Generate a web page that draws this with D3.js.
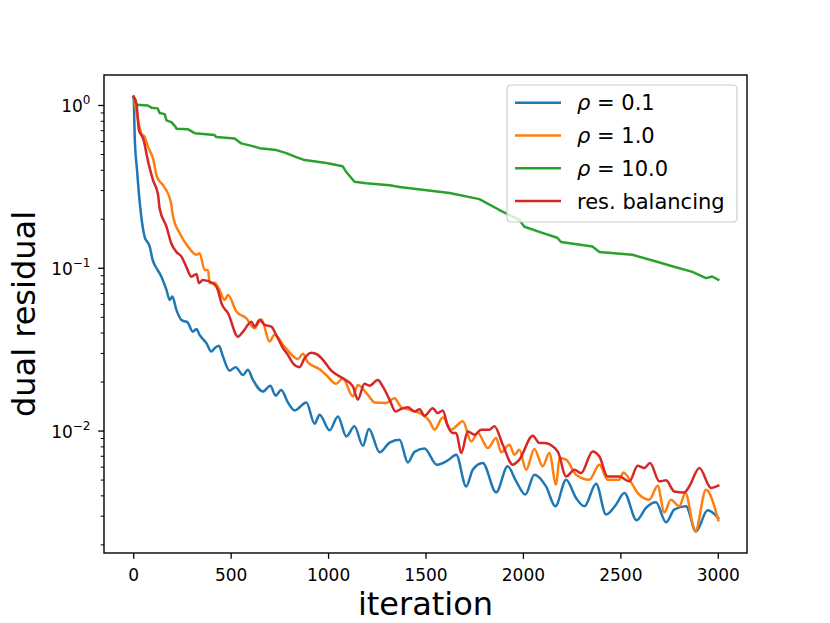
<!DOCTYPE html>
<html>
<head>
<meta charset="utf-8">
<script src="https://cdn.jsdelivr.net/npm/d3@7"></script>
<style>
  body { margin: 0; background: #fff; }
  svg { font-family: "DejaVu Sans", sans-serif; }
</style>
</head>
<body>
<svg width="830" height="623"></svg>
<script>
// values: [iteration, dual residual]
const rho01 = [[0,1.13],[5,0.642],[17,0.401],[31,0.252],[56,0.156],[82,0.136],[97,0.1125],[123,0.0975],[142,0.0888],[168,0.0736],[185,0.0638],[198,0.067],[219,0.0555],[245,0.0481],[277,0.0464],[303,0.0408],[322,0.0423],[338,0.039],[373,0.0347],[398,0.0308],[415,0.0323],[437,0.0334],[458,0.0287],[492,0.0235],[523,0.0247],[561,0.0221],[586,0.0238],[612,0.0206],[663,0.0175],[701,0.019],[728,0.0165],[757,0.0179],[791,0.015],[826,0.0134],[886,0.015],[928,0.0111],[954,0.0126],[1005,0.0101],[1048,0.0123],[1091,0.00927],[1133,0.0107],[1176,0.00813],[1207,0.0103],[1262,0.0074],[1313,0.0085],[1364,0.00885],[1407,0.00641],[1441,0.00745],[1492,0.00781],[1556,0.00621],[1615,0.00664],[1655,0.00716],[1706,0.00457],[1740,0.00579],[1791,0.00637],[1860,0.0042],[1919,0.00607],[1963,0.00491],[2010,0.00407],[2056,0.0054],[2116,0.00457],[2164,0.00345],[2219,0.00503],[2270,0.00388],[2313,0.00345],[2373,0.00475],[2424,0.00307],[2475,0.00353],[2518,0.00417],[2581,0.00283],[2629,0.00337],[2680,0.00365],[2732,0.00275],[2774,0.00329],[2834,0.00345],[2886,0.00242],[2945,0.00326],[3000,0.00292]];

const rho1 = [[0,1.13],[22,0.813],[39,0.673],[56,0.642],[73,0.557],[99,0.473],[119,0.365],[150,0.324],[190,0.256],[202,0.207],[236,0.164],[278,0.136],[322,0.121],[338,0.1236],[364,0.0977],[381,0.0977],[390,0.0809],[415,0.0816],[432,0.0771],[467,0.064],[484,0.0686],[527,0.0542],[578,0.0493],[620,0.0428],[655,0.0486],[697,0.0355],[723,0.039],[774,0.033],[843,0.0277],[868,0.0298],[894,0.0264],[954,0.024],[988,0.0221],[1039,0.0195],[1073,0.0211],[1125,0.0163],[1150,0.0192],[1202,0.0167],[1236,0.015],[1296,0.0149],[1338,0.0159],[1373,0.014],[1415,0.0135],[1484,0.0126],[1518,0.0115],[1544,0.0102],[1586,0.0121],[1629,0.0102],[1689,0.0115],[1732,0.00863],[1766,0.00972],[1817,0.00787],[1860,0.00906],[1886,0.0074],[1928,0.00824],[1954,0.00716],[1979,0.00768],[2014,0.00579],[2056,0.00776],[2099,0.00607],[2133,0.00733],[2168,0.00469],[2185,0.00683],[2219,0.00667],[2270,0.0054],[2338,0.00503],[2390,0.00621],[2432,0.00503],[2492,0.00503],[2513,0.00557],[2560,0.00469],[2586,0.00417],[2646,0.00379],[2689,0.00462],[2723,0.00317],[2757,0.00379],[2800,0.00345],[2831,0.00417],[2882,0.00242],[2937,0.00436],[3000,0.00283]];

const rho10 = [[0,1.13],[14,1.01],[72,1.0],[91,0.97],[123,0.96],[133,0.90],[159,0.885],[168,0.81],[193,0.79],[215,0.74],[219,0.72],[277,0.715],[313,0.676],[415,0.658],[424,0.64],[518,0.627],[552,0.585],[610,0.563],[646,0.547],[732,0.532],[783,0.51],[834,0.482],[877,0.462],[988,0.443],[1072,0.424],[1091,0.39],[1133,0.34],[1193,0.333],[1313,0.324],[1364,0.316],[1621,0.29],[1774,0.266],[1877,0.228],[1979,0.198],[2005,0.18],[2097,0.165],[2174,0.154],[2193,0.145],[2354,0.136],[2390,0.126],[2559,0.121],[2681,0.11],[2764,0.103],[2867,0.095],[2937,0.087],[2969,0.089],[3000,0.085]];

const resBal = [[0,1.13],[14,1.03],[27,0.705],[48,0.628],[78,0.43],[99,0.348],[125,0.282],[133,0.233],[168,0.18],[193,0.142],[219,0.126],[245,0.118],[270,0.102],[296,0.0888],[322,0.0923],[335,0.0809],[355,0.0848],[407,0.0809],[432,0.0736],[450,0.061],[484,0.053],[535,0.038],[561,0.0408],[604,0.047],[620,0.0438],[646,0.0482],[672,0.0449],[706,0.0438],[731,0.039],[766,0.0323],[791,0.0294],[817,0.0261],[851,0.0247],[877,0.028],[911,0.0303],[945,0.0294],[971,0.0274],[1014,0.0235],[1073,0.0211],[1125,0.0188],[1150,0.0156],[1184,0.0195],[1210,0.019],[1253,0.0206],[1278,0.0188],[1313,0.0156],[1344,0.0132],[1373,0.0137],[1407,0.014],[1441,0.0132],[1467,0.0136],[1492,0.0124],[1535,0.0138],[1560,0.0129],[1586,0.0134],[1612,0.0107],[1637,0.00972],[1655,0.00972],[1681,0.00733],[1714,0.00995],[1749,0.00949],[1783,0.0102],[1826,0.0102],[1851,0.0107],[1894,0.00824],[1945,0.00621],[1979,0.00667],[2048,0.00936],[2082,0.00844],[2108,0.00844],[2176,0.0075],[2219,0.00526],[2262,0.00579],[2296,0.00552],[2355,0.0075],[2390,0.00698],[2432,0.00526],[2492,0.00526],[2544,0.00491],[2586,0.00612],[2620,0.00593],[2650,0.00637],[2697,0.00491],[2732,0.00498],[2774,0.00426],[2826,0.0042],[2851,0.00457],[2903,0.00593],[2963,0.00447],[3000,0.00462]];

const seriesNames = ["ρ = 0.1", "ρ = 1.0", "ρ = 10.0", "res. balancing"];
const xTicks = [0, 500, 1000, 1500, 2000, 2500, 3000];
const yExponents = [0, -1, -2];

const colors = ["#1f77b4", "#ff7f0e", "#2ca02c", "#d62728"];
const series = [rho01, rho1, rho10, resBal];

const svg = d3.select("svg");
const pLeft = 104, pRight = 747, pTop = 75, pBottom = 553;

const x = d3.scaleLinear().domain([-150, 3150]).range([104.5, 747.5]);
const y = d3.scaleLog().domain([Math.pow(10, -2.749), Math.pow(10, 0.1873)]).range([pBottom, pTop]);

svg.append("clipPath").attr("id", "clip")
  .append("rect").attr("x", pLeft).attr("y", pTop).attr("width", pRight - pLeft).attr("height", pBottom - pTop);

// lines
const smooth = d3.line().x(d => x(d[0])).y(d => y(d[1])).curve(d3.curveMonotoneX);
const steps = d3.line().x(d => x(d[0])).y(d => y(d[1]));

svg.append("g").attr("clip-path", "url(#clip)")
  .selectAll("path")
  .data(series)
  .join("path")
  .attr("d", (d, i) => i == 2 ? steps(d) : smooth(d))
  .attr("fill", "none")
  .attr("stroke", (d, i) => colors[i])
  .attr("stroke-width", 2.5)
  .attr("stroke-linejoin", "round")
  .attr("stroke-linecap", "square");

// x axis ticks
const gx = svg.append("g");
gx.selectAll("line")
  .data(xTicks)
  .join("line")
  .attr("x1", d => x(d)).attr("x2", d => x(d))
  .attr("y1", pBottom).attr("y2", pBottom + 5.8)
  .attr("stroke", "#000").attr("stroke-width", 1.3);
gx.selectAll("text")
  .data(xTicks)
  .join("text")
  .attr("x", d => x(d))
  .attr("y", 580.5)
  .attr("text-anchor", "middle")
  .style("font-size", "17px")
  .text(d => d);

// y axis: major and minor ticks
const minor = [];
[-3, -2, -1, 0].forEach(e => {
  for (let m = 2; m <= 9; m++) {
    const v = m * Math.pow(10, e);
    if (v >= y.domain()[0] && v <= y.domain()[1]) minor.push(v);
  }
});
const gy = svg.append("g");
gy.selectAll(".minor")
  .data(minor)
  .join("line")
  .attr("class", "minor")
  .attr("x1", pLeft - 3.3).attr("x2", pLeft)
  .attr("y1", d => y(d)).attr("y2", d => y(d))
  .attr("stroke", "#000").attr("stroke-width", 1);
gy.selectAll(".major")
  .data(yExponents)
  .join("line")
  .attr("class", "major")
  .attr("x1", pLeft - 5.8).attr("x2", pLeft)
  .attr("y1", d => y(Math.pow(10, d))).attr("y2", d => y(Math.pow(10, d)))
  .attr("stroke", "#000").attr("stroke-width", 1.3);

const labels = gy.selectAll(".lab")
  .data(yExponents)
  .join("text")
  .attr("class", "lab")
  .attr("x", 90.5)
  .attr("y", d => y(Math.pow(10, d)) + 7)
  .attr("text-anchor", "end")
  .style("font-size", "17px");
labels.append("tspan").text("10");
labels.append("tspan")
  .attr("dy", -8)
  .style("font-size", "12px")
  .text(d => d == 0 ? "0" : "\u2212" + Math.abs(d));

// spines
svg.append("rect")
  .attr("x", pLeft).attr("y", pTop)
  .attr("width", pRight - pLeft).attr("height", pBottom - pTop)
  .attr("fill", "none").attr("stroke", "#000").attr("stroke-width", 1.4);

// axis titles
svg.append("text")
  .attr("x", (pLeft + pRight) / 2)
  .attr("y", 615)
  .attr("text-anchor", "middle")
  .style("font-size", "32px")
  .text("iteration");
svg.append("text")
  .attr("transform", `translate(35, ${(pTop + pBottom) / 2}) rotate(-90)`)
  .attr("text-anchor", "middle")
  .style("font-size", "32px")
  .text("dual residual");

// legend
const legend = svg.append("g");
legend.append("rect")
  .attr("x", 507).attr("y", 85)
  .attr("width", 230).attr("height", 137)
  .attr("rx", 4)
  .attr("fill", "#fff").attr("fill-opacity", 0.8)
  .attr("stroke", "#cccccc").attr("stroke-width", 1.2);

const items = legend.selectAll(".item")
  .data(seriesNames)
  .join("g")
  .attr("class", "item")
  .attr("transform", (d, i) => `translate(0, ${102.7 + i * 32.8})`);
items.append("line")
  .attr("x1", 515).attr("x2", 561)
  .attr("stroke", (d, i) => colors[i])
  .attr("stroke-width", 2.5);
const lt = items.append("text")
  .attr("x", 577)
  .attr("y", 7.4)
  .style("font-size", "21px");
lt.each(function (d) {
  const t = d3.select(this);
  if (d.startsWith("ρ")) {
    t.append("tspan").style("font-style", "italic").text("ρ");
    t.append("tspan").text(d.slice(1));
  } else {
    t.text(d);
  }
});
</script>
</body>
</html>
